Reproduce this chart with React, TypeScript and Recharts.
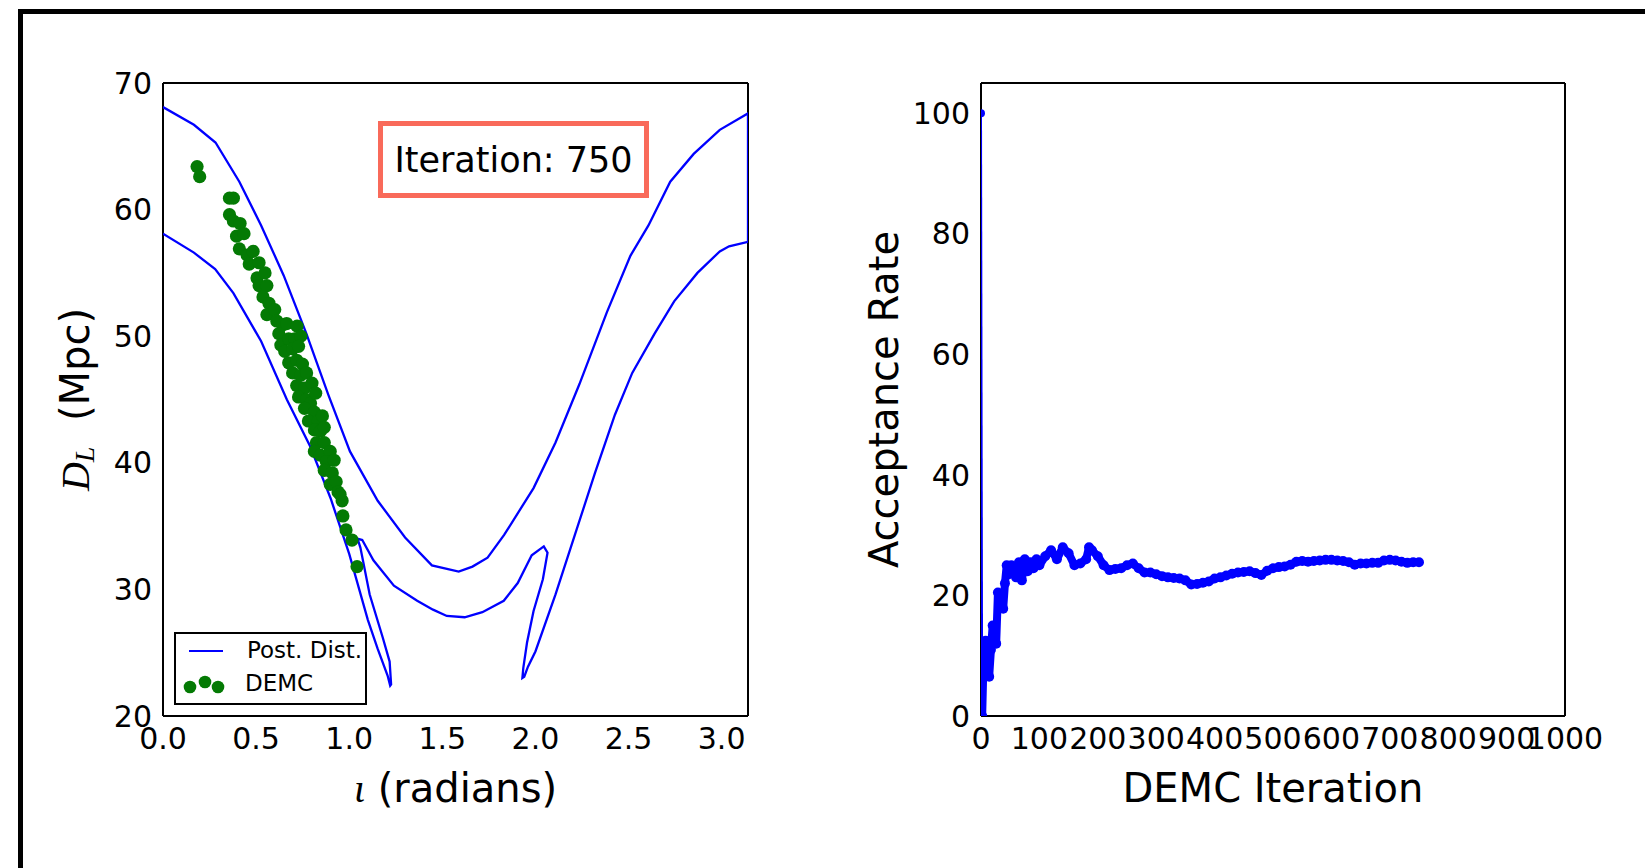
import { ScatterChart, Scatter, XAxis, YAxis } from "recharts";

const BLUE = "#0000ff";
const GREEN = "#047a04";
const CORAL = "#f96a5a";
const FONT = "'DejaVu Sans', sans-serif";
const MATH = "'Liberation Serif', 'DejaVu Serif', serif";

// left panel: posterior contour (one path, in drawing order) and DEMC samples
const contourIota = [
  0, 0.166, 0.28, 0.378, 0.527, 0.665, 0.79, 0.9, 1.0, 1.1, 1.153, 1.206, 1.22, 1.225, 1.217,
  1.18, 1.11, 1.06, 1.045, 1.07, 1.13, 1.24, 1.365, 1.45, 1.524, 1.62, 1.715, 1.83, 1.905, 1.98,
  2.045, 2.065, 2.04, 1.99, 1.955, 1.935, 1.93, 1.94, 1.96, 2.0, 2.108, 2.214, 2.32, 2.427, 2.52,
  2.64, 2.745, 2.87, 2.99, 3.04, 3.1416, 3.1416, 2.99, 2.85, 2.724, 2.607, 2.51, 2.384, 2.236,
  2.108, 1.99, 1.832, 1.743, 1.662, 1.588, 1.444, 1.3, 1.153, 1.004, 0.887, 0.77, 0.648, 0.527,
  0.41, 0.282, 0.166, 0,
];
const contourDist = [
  58.1, 56.6, 55.3, 53.4, 49.6, 45.0, 41.3, 37.2, 32.8, 27.6, 25.3, 23.2, 22.4, 22.5, 24.3,
  26.2, 29.6, 33.3, 34.0, 33.9, 32.3, 30.3, 29.1, 28.4, 27.9, 27.8, 28.2, 29.1, 30.5, 32.7,
  33.4, 32.9, 30.8, 28.3, 25.8, 23.8, 23.0, 23.1, 23.9, 25.1, 29.6, 34.4, 39.2, 43.8, 47.1,
  50.2, 52.75, 55.0, 56.7, 57.1, 57.45, 67.6, 66.3, 64.4, 62.2, 58.75, 56.35, 51.9, 46.2,
  41.6, 38.0, 34.3, 32.5, 31.8, 31.4, 31.9, 34.1, 37.0, 40.9, 45.4, 50.2, 54.8, 58.75,
  62.2, 65.3, 66.7, 68.1,
];

const demcIota = [
  0.183, 0.197, 0.357, 0.378, 0.357, 0.378, 0.414, 0.395, 0.435, 0.41, 0.452, 0.484, 0.463,
  0.516, 0.505, 0.548, 0.516, 0.558, 0.537, 0.569, 0.558, 0.6, 0.611, 0.643, 0.622, 0.664,
  0.633, 0.675, 0.707, 0.72, 0.74, 0.654, 0.696, 0.728, 0.675, 0.718, 0.749, 0.696, 0.739,
  0.771, 0.718, 0.76, 0.8, 0.728, 0.771, 0.792, 0.82, 0.76, 0.813, 0.781, 0.834, 0.856, 0.813,
  0.845, 0.866, 0.824, 0.866, 0.813, 0.845, 0.898, 0.877, 0.919, 0.866, 0.909, 0.898, 0.93,
  0.94, 0.962, 0.951, 0.966, 0.983, 1.015, 1.042,
];
const demcDist = [
  63.4, 62.6, 60.9, 60.9, 59.6, 59.1, 58.9, 57.9, 58.1, 56.9, 56.4, 56.7, 55.7,
  55.8, 54.6, 55.0, 54.0, 54.0, 53.1, 52.6, 51.7, 52.1, 51.2, 50.9, 50.2, 51.0,
  49.3, 49.8, 49.8, 50.8, 50.0, 48.8, 49.0, 49.2, 47.9, 48.1, 47.8, 47.1, 46.9,
  47.1, 46.1, 45.9, 46.3, 45.2, 45.0, 44.7, 45.5, 44.3, 44.0, 43.3, 43.3, 43.7, 42.6,
  42.5, 42.8, 41.6, 41.6, 40.9, 40.6, 40.9, 40.1, 40.2, 39.4, 39.2, 38.3, 38.5,
  37.7, 37.0, 37.5, 35.8, 34.7, 33.9, 31.8,
];

const iotaTicks = [0, 0.5, 1, 1.5, 2, 2.5, 3];
const distTicks = [20, 30, 40, 50, 60, 70];

// right panel: running acceptance rate
const accIter = [
  0, 2, 5, 8, 11, 14, 17, 20, 23, 26, 29, 32, 35, 38, 41, 44, 48, 52, 56, 60, 65, 70, 75, 80,
  85, 90, 95, 100, 110, 120, 130, 140, 150, 160, 170, 180, 185, 190, 200, 210, 220, 230, 240,
  250, 260, 270, 280, 290, 300, 310, 320, 330, 340, 350, 360, 370, 380, 390, 400, 410, 420,
  430, 440, 450, 460, 470, 480, 490, 500, 510, 520, 530, 540, 550, 560, 570, 580, 590, 600,
  610, 620, 630, 640, 650, 660, 670, 680, 690, 700, 710, 720, 730, 740, 750,
];
const accRate = [
  100, 0, 12, 12.5, 10, 6.5, 11, 15, 14.5, 12, 20.5, 18, 20, 17.8, 22, 25, 23.5, 25, 24, 23,
  25.5, 22.5, 26, 24, 25.5, 24.5, 26, 25, 26.5, 27.5, 26, 28, 27, 25, 25.3, 26, 28, 27.5, 26.5,
  25, 24.2, 24.4, 24.5, 25, 25.3, 24.5, 23.8, 23.8, 23.5, 23.2, 23, 22.9, 22.8, 22.5, 21.8,
  21.9, 22.1, 22.3, 22.8, 23, 23.3, 23.6, 23.8, 23.9, 24, 23.7, 23.4, 24.1, 24.5, 24.7, 24.8,
  25.1, 25.6, 25.7, 25.6, 25.7, 25.8, 25.9, 25.9, 25.8, 25.7, 25.5, 25.1, 25.3, 25.3, 25.4,
  25.4, 25.8, 25.9, 25.8, 25.6, 25.4, 25.5, 25.5,
];

const iterTicks = [0, 100, 200, 300, 400, 500, 600, 700, 800, 900, 1000];
const rateTicks = [0, 20, 40, 60, 80, 100];

const contourData = contourIota.map((x, i) => ({ x, y: contourDist[i] }));
const demcData = demcIota.map((x, i) => ({ x, y: demcDist[i] }));
const accData = accIter.map((x, i) => ({ x, y: accRate[i] }));

const tickFont = { fontFamily: FONT, fontSize: 30, fill: "#000" };
const frameLine = { stroke: "#000", strokeWidth: 2 };
const inTick = { stroke: "#000", strokeWidth: 1.2 };

const dot = (r: number, fill: string) => (p: any) => (
  <circle cx={p.cx} cy={p.cy} r={r} fill={fill} />
);
const noShape = () => <g />;

function DistTitle({ viewBox }: any) {
  const cx = viewBox.x + 12;
  const cy = viewBox.y + viewBox.height / 2;
  return (
    <text
      x={cx}
      y={cy}
      transform={`rotate(-90 ${cx} ${cy})`}
      textAnchor="middle"
      dominantBaseline="central"
      fontSize={40}
      fontFamily={FONT}
      fill="#000"
    >
      <tspan fontFamily={MATH} fontStyle="italic">D</tspan>
      <tspan fontFamily={MATH} fontStyle="italic" fontSize={28} dy={9}>L</tspan>
      <tspan dy={-9}>{"\u00a0\u00a0(Mpc)"}</tspan>
    </text>
  );
}

function IotaTitle({ viewBox }: any) {
  return (
    <text
      x={viewBox.x + viewBox.width / 2}
      y={viewBox.y + 86}
      textAnchor="middle"
      fontSize={40}
      fontFamily={FONT}
      fill="#000"
    >
      <tspan fontFamily={MATH} fontStyle="italic">ι</tspan>
      <tspan>{"\u00a0(radians)"}</tspan>
    </text>
  );
}

function RateTitle({ viewBox }: any) {
  const cx = viewBox.x + 3;
  const cy = viewBox.y + viewBox.height / 2;
  return (
    <text
      x={cx}
      y={cy}
      transform={`rotate(-90 ${cx} ${cy})`}
      textAnchor="middle"
      dominantBaseline="central"
      fontSize={40}
      fontFamily={FONT}
      fill="#000"
    >
      Acceptance Rate
    </text>
  );
}

function IterTitle({ viewBox }: any) {
  return (
    <text
      x={viewBox.x + viewBox.width / 2}
      y={viewBox.y + 86}
      textAnchor="middle"
      fontSize={40}
      fontFamily={FONT}
      fill="#000"
    >
      DEMC Iteration
    </text>
  );
}

function DistancePanel() {
  const xDomain = [0, 3.1416];
  const yDomain = [20, 70];
  return (
    <ScatterChart width={800} height={868} margin={{ top: 83, right: 52, bottom: 52, left: 63 }}>
      <XAxis
        type="number"
        dataKey="x"
        domain={xDomain}
        allowDataOverflow
        ticks={iotaTicks}
        interval={0}
        tickFormatter={(v: number) => v.toFixed(1)}
        height={100}
        tickSize={0}
        tickMargin={12}
        tick={tickFont}
        axisLine={frameLine}
        label={<IotaTitle />}
      />
      <XAxis xAxisId="bm" type="number" domain={xDomain} allowDataOverflow ticks={iotaTicks} interval={0}
        orientation="bottom" mirror tick={false} tickSize={10} tickLine={inTick} axisLine={false} />
      <XAxis xAxisId="tm" type="number" domain={xDomain} allowDataOverflow ticks={iotaTicks} interval={0}
        orientation="top" mirror tick={false} tickSize={10} tickLine={inTick} axisLine={frameLine} />
      <YAxis
        type="number"
        dataKey="y"
        domain={yDomain}
        allowDataOverflow
        ticks={distTicks}
        interval={0}
        width={100}
        tickSize={0}
        tickMargin={11}
        tick={tickFont}
        axisLine={frameLine}
        label={<DistTitle />}
      />
      <YAxis yAxisId="lm" type="number" domain={yDomain} allowDataOverflow ticks={distTicks} interval={0}
        orientation="left" mirror tick={false} tickSize={10} tickLine={inTick} axisLine={false} />
      <YAxis yAxisId="rm" type="number" domain={yDomain} allowDataOverflow ticks={distTicks} interval={0}
        orientation="right" mirror tick={false} tickSize={10} tickLine={inTick} axisLine={frameLine} />
      <Scatter
        data={contourData}
        line={{ stroke: BLUE, strokeWidth: 2.3 }}
        lineType="joint"
        shape={noShape}
        isAnimationActive={false}
      />
      <Scatter data={demcData} shape={dot(6.6, GREEN)} isAnimationActive={false} />
    </ScatterChart>
  );
}

function AcceptancePanel() {
  const xDomain = [0, 1000];
  const yDomain = [0, 105];
  return (
    <ScatterChart width={825} height={868} margin={{ top: 83, right: 80, bottom: 52, left: 61 }}>
      <XAxis
        type="number"
        dataKey="x"
        domain={xDomain}
        allowDataOverflow
        ticks={iterTicks}
        interval={0}
        height={100}
        tickSize={0}
        tickMargin={12}
        tick={tickFont}
        axisLine={frameLine}
        label={<IterTitle />}
      />
      <XAxis xAxisId="bm" type="number" domain={xDomain} allowDataOverflow ticks={iterTicks} interval={0}
        orientation="bottom" mirror tick={false} tickSize={10} tickLine={inTick} axisLine={false} />
      <XAxis xAxisId="tm" type="number" domain={xDomain} allowDataOverflow ticks={iterTicks} interval={0}
        orientation="top" mirror tick={false} tickSize={10} tickLine={inTick} axisLine={frameLine} />
      <YAxis
        type="number"
        dataKey="y"
        domain={yDomain}
        allowDataOverflow
        ticks={rateTicks}
        interval={0}
        width={100}
        tickSize={0}
        tickMargin={11}
        tick={tickFont}
        axisLine={frameLine}
        label={<RateTitle />}
      />
      <YAxis yAxisId="lm" type="number" domain={yDomain} allowDataOverflow ticks={rateTicks} interval={0}
        orientation="left" mirror tick={false} tickSize={10} tickLine={inTick} axisLine={false} />
      <YAxis yAxisId="rm" type="number" domain={yDomain} allowDataOverflow ticks={rateTicks} interval={0}
        orientation="right" mirror tick={false} tickSize={10} tickLine={inTick} axisLine={frameLine} />
      {/* first step (100% -> 0%) is a thin line, the rest is a dense band of markers */}
      <Scatter
        data={accData.slice(0, 2)}
        line={{ stroke: BLUE, strokeWidth: 2 }}
        lineType="joint"
        shape={dot(4, BLUE)}
        isAnimationActive={false}
      />
      <Scatter
        data={accData.slice(1)}
        line={{ stroke: BLUE, strokeWidth: 8, strokeLinejoin: "round", strokeLinecap: "round" }}
        lineType="joint"
        shape={dot(5, BLUE)}
        isAnimationActive={false}
      />
    </ScatterChart>
  );
}

export default function App() {
  return (
    <div
      style={{
        position: "absolute",
        left: 0,
        top: 0,
        width: 1645,
        height: 868,
        background: "#fff",
        overflow: "hidden",
        fontFamily: FONT,
      }}
    >
      {/* video frame edge */}
      <div
        style={{
          position: "absolute",
          left: 18,
          top: 9,
          width: 1645 - 18,
          height: 868 - 9,
          borderTop: "5px solid #000",
          borderLeft: "5px solid #000",
          boxSizing: "border-box",
        }}
      />
      <div style={{ position: "absolute", left: 0, top: 0 }}>
        <DistancePanel />
      </div>
      <div style={{ position: "absolute", left: 820, top: 0 }}>
        <AcceptancePanel />
      </div>

      {/* iteration annotation */}
      <div
        style={{
          position: "absolute",
          left: 378,
          top: 121,
          width: 271,
          height: 77,
          boxSizing: "border-box",
          border: `5px solid ${CORAL}`,
          background: "#fff",
          display: "flex",
          alignItems: "center",
          justifyContent: "center",
          fontSize: 35,
          color: "#000",
        }}
      >
        Iteration: 750
      </div>

      {/* legend */}
      <div
        style={{
          position: "absolute",
          left: 174,
          top: 632,
          width: 193,
          height: 73,
          boxSizing: "border-box",
          border: "2px solid #000",
          background: "#fff",
        }}
      >
        <svg width={189} height={69} style={{ position: "absolute", left: 0, top: 0 }}>
          <line x1={13} y1={17} x2={47} y2={17} stroke={BLUE} strokeWidth={2} />
          <circle cx={14} cy={53} r={6.3} fill={GREEN} />
          <circle cx={29} cy={48} r={6.3} fill={GREEN} />
          <circle cx={42} cy={53} r={6.3} fill={GREEN} />
          <text x={71} y={24} fontFamily={FONT} fontSize={23} fill="#000">Post. Dist.</text>
          <text x={69} y={57} fontFamily={FONT} fontSize={23} fill="#000">DEMC</text>
        </svg>
      </div>
    </div>
  );
}
